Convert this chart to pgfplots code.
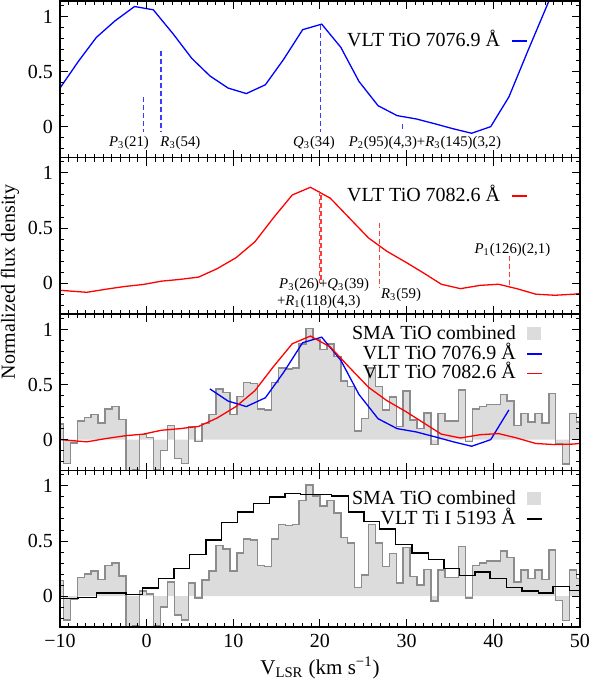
\documentclass[border=0pt]{standalone}
\usepackage{fontspec}
\setmainfont{Liberation Serif}
\usepackage{pgfplots}
\pgfplotsset{compat=1.18}
\definecolor{histfill}{HTML}{DCDCDC}
\definecolor{histline}{HTML}{8C8C8C}
\definecolor{vblue}{HTML}{0000FF}
\definecolor{vred}{HTML}{FF0000}
\definecolor{dblue}{HTML}{3C3CFF}
\definecolor{dred}{HTML}{FF3C3C}
\newcommand{\lab}{\fontsize{7.4}{8.6}\selectfont}

% SMA TiO combined, left bin edges (0.8 km/s channels)
\pgfplotstableread{
x y
-10.4 0.14
-9.6 -0.215
-8.8 -0.03
-8.0 0.17
-7.2 0.20
-6.4 0.23
-5.6 0.15
-4.8 0.28
-4.0 0.30
-3.2 0.185
-2.4 -0.40
-1.6 -0.27
-0.8 0.046
0.0 0.02
0.8 -0.27
1.6 -0.10
2.4 0.13
3.2 -0.17
4.0 -0.215
4.8 0.12
5.6 -0.015
6.4 0.145
7.2 0.23
8.0 0.46
8.8 0.43
9.6 0.23
10.4 0.39
11.2 0.52
12.0 0.51
12.8 0.28
13.6 0.27
14.4 0.52
15.2 0.65
16.0 0.64
16.8 0.65
17.6 0.87
18.4 1.01
19.2 0.91
20.0 0.82
20.8 0.87
21.6 0.755
22.4 0.53
23.2 0.48
24.0 0.08
24.8 0.19
25.6 0.65
26.4 0.48
27.2 0.27
28.0 0.385
28.8 0.12
29.6 0.44
30.4 0.18
31.2 0.10
32.0 0.24
32.8 -0.046
33.6 0.235
34.4 0.17
35.2 0.17
36.0 0.45
36.8 -0.015
37.6 0.28
38.4 0.30
39.2 0.32
40.0 0.32
40.8 0.41
41.6 0.35
42.4 0.13
43.2 0.235
44.0 0.16
44.8 0.235
45.6 0.15
46.4 0.42
47.2 -0.04
48.0 -0.22
48.8 0.235
49.6 0.16
50.4 0.16
}\sma

% VLT TiO 7076.9
\pgfplotstableread{
x y
-10.0 0.35
-7.9 0.59
-5.8 0.81
-3.65 0.96
-1.4 1.09
0.77 1.06
3.07 0.84
5.2 0.62
7.3 0.46
9.4 0.35
11.5 0.30
13.7 0.38
15.8 0.61
18.0 0.88
20.2 0.93
22.4 0.72
24.5 0.41
26.7 0.19
28.9 0.10
31.1 0.07
33.3 0.025
35.4 -0.02
37.5 -0.06
39.7 0.0
41.8 0.27
44.0 0.69
46.2 1.10
48.3 1.50
}\tioa

\pgfplotstableread{
x y
7.3 0.46
9.4 0.35
11.5 0.30
13.7 0.38
15.8 0.61
18.0 0.88
20.2 0.93
22.4 0.72
24.5 0.41
26.7 0.19
28.9 0.10
31.1 0.07
33.3 0.025
35.4 -0.02
37.5 -0.06
39.7 0.0
41.8 0.27
}\tioacut

% VLT TiO 7082.6
\pgfplotstableread{
x y
-10.0 -0.065
-6.9 -0.083
-4.7 -0.055
-2.5 -0.03
-0.4 -0.012
1.7 0.018
3.85 0.034
6.0 0.055
8.1 0.13
10.3 0.23
12.5 0.376
14.6 0.59
16.8 0.80
18.9 0.87
21.2 0.77
23.4 0.59
25.6 0.41
27.7 0.29
29.9 0.19
32.0 0.09
34.0 -0.01
36.2 -0.05
38.5 -0.02
40.6 -0.01
42.7 -0.05
44.9 -0.10
47.1 -0.11
49.3 -0.10
51.5 -0.08
}\tiob

\pgfplotstableread{
x y
-10.0 0.0
-6.9 -0.02
-4.7 0.01
-2.5 0.035
-0.4 0.05
1.7 0.085
3.85 0.10
6.0 0.12
8.1 0.195
10.3 0.30
12.5 0.445
14.6 0.66
16.8 0.87
18.9 0.94
21.2 0.84
23.4 0.655
25.6 0.475
27.7 0.355
29.9 0.255
32.0 0.15
34.0 0.05
36.2 0.015
38.5 0.045
40.6 0.055
42.7 0.015
44.9 -0.035
47.1 -0.045
49.3 -0.04
51.5 -0.02
}\tiobb

% VLT Ti I 5193, left edges
\pgfplotstableread{
x y
-10.0 -0.02
-7.9 -0.01
-5.8 0.03
-2.4 0.015
-0.45 0.075
1.35 0.16
3.15 0.25
4.95 0.38
6.85 0.51
8.65 0.67
10.5 0.765
12.35 0.84
14.15 0.90
15.96 0.93
17.77 0.92
19.55 0.925
21.35 0.91
23.3 0.765
25.1 0.68
26.9 0.61
28.7 0.47
30.6 0.39
32.5 0.33
34.3 0.25
36.1 0.19
37.9 0.22
39.6 0.16
41.5 0.076
43.3 0.046
45.2 0.03
46.9 0.09
48.8 0.05
50.0 0.05
}\tii

\pgfplotsset{panel/.style={scale only axis,width=260pt,height=78.25pt,
  xmin=-10,xmax=50,ymin=-0.28,ymax=1.14,
  xtick={-10,0,...,50},minor xtick={-10,-9,...,50},xticklabels={},
  ytick={0,0.5,1},yticklabels={0,0.5,1},
  minor ytick={-0.2,-0.1,0.1,0.2,0.3,0.4,0.6,0.7,0.8,0.9,1.1},
  tick align=inside,major tick length=4pt,minor tick length=2pt,
  axis line style={line width=0.8pt},every tick/.style={black,line width=0.5pt},
  tick label style={font=\fontsize{10}{12}\selectfont},
  axis on top,anchor=north west,
  legend cell align=right,legend plot pos=right,
  legend image code/.code={\draw[#1,line width=0.7pt] (0pt,0pt) -- (7.5pt,0pt);},
  legend style={draw=none,fill=none,font=\fontsize{10}{11}\selectfont,anchor=north east,
    column sep=5pt,row sep=0pt,inner sep=0pt,
    nodes={inner sep=0.5pt,text height=7pt,text depth=1.8pt}}},
  boxleg/.style={legend image code/.code={\fill[histfill] (0pt,-3pt) rectangle (7pt,3.5pt);}},
  bmark/.style={forget plot,color=dblue,line width=0.55pt,dash pattern=on 2.5pt off 1.5pt},
  rmark/.style={forget plot,color=dred,line width=0.55pt,dash pattern=on 2.5pt off 1.5pt}}

\begin{document}
\begin{tikzpicture}
\path[use as bounding box] (-30pt,0.5pt) rectangle (269pt,-339.5pt);

\begin{axis}[panel,at={(0pt,0pt)},legend style={at={(0.90,0.81)}}]
\addplot[color=vblue,line width=0.65pt] table {\tioa};
\addlegendentry{VLT TiO 7076.9 Å}
\addplot[bmark] coordinates {(-0.38,0.27) (-0.38,-0.05)};
\addplot[bmark] coordinates {(1.65,0.69) (1.65,-0.05)};
\addplot[bmark] coordinates {(20.1,0.92) (20.1,-0.05)};
\addplot[bmark] coordinates {(29.5,0.02) (29.5,-0.05)};
\node[font=\lab,inner sep=0pt] at (axis cs:-2.04,-0.15) {\textit{P}\textsubscript{3}(21)};
\node[font=\lab,inner sep=0pt,anchor=west] at (axis cs:1.55,-0.15) {\textit{R}\textsubscript{3}(54)};
\node[font=\lab,inner sep=0pt] at (axis cs:19.3,-0.15) {\textit{Q}\textsubscript{3}(34)};
\node[font=\lab,inner sep=0pt] at (axis cs:32.1,-0.15) {\textit{P}\textsubscript{2}(95)(4,3)+\textit{R}\textsubscript{3}(145)(3,2)};
\end{axis}

\begin{axis}[panel,at={(0pt,-78.25pt)},legend style={at={(0.90,0.82)}}]
\addplot[color=vred,line width=0.65pt] table {\tiob};
\addlegendentry{VLT TiO 7082.6 Å}
\addplot[rmark] coordinates {(19.9,0.84) (19.9,-0.0)};
\addplot[rmark] coordinates {(20.12,0.80) (20.12,-0.0)};
\addplot[rmark] coordinates {(26.85,0.55) (26.85,-0.04)};
\addplot[rmark] coordinates {(41.85,0.25) (41.85,-0.03)};
\node[font=\lab,inner sep=0pt,anchor=west] at (axis cs:15.25,-0.02) {\textit{P}\textsubscript{3}(26)+\textit{Q}\textsubscript{3}(39)};
\node[font=\lab,inner sep=0pt,anchor=west] at (axis cs:15.0,-0.17) {+\textit{R}\textsubscript{1}(118)(4,3)};
\node[font=\lab,inner sep=0pt,anchor=west] at (axis cs:27.0,-0.11) {\textit{R}\textsubscript{3}(59)};
\node[font=\lab,inner sep=0pt] at (axis cs:42.2,0.30) {\textit{P}\textsubscript{1}(126)(2,1)};
\end{axis}

\begin{axis}[panel,at={(0pt,-156.5pt)},legend style={at={(0.93,0.936)}}]
\addplot[const plot mark left,fill=histfill,draw=none,boxleg] table {\sma} \closedcycle;
\addlegendentry{SMA TiO combined}
\addplot[forget plot,const plot mark left,color=histline,line width=0.75pt] table {\sma};
\addplot[color=vblue,line width=0.65pt] table {\tioacut};
\addlegendentry{VLT TiO 7076.9 Å}
\addplot[color=vred,line width=0.65pt] table {\tiobb};
\addlegendentry{VLT TiO 7082.6 Å}
\end{axis}

\begin{axis}[panel,at={(0pt,-234.75pt)},legend style={at={(0.93,0.88)}},
  xticklabels={−10,0,10,20,30,40,50}]
\addplot[const plot mark left,fill=histfill,draw=none,boxleg] table {\sma} \closedcycle;
\addlegendentry{SMA TiO combined}
\addplot[forget plot,const plot mark left,color=histline,line width=0.75pt] table {\sma};
\addplot[const plot mark left,color=black,line width=0.7pt] table {\tii};
\addlegendentry{VLT Ti I 5193 Å}
\end{axis}

\node[rotate=90,font=\fontsize{10}{12}\selectfont] at (-25pt,-140.5pt) {Normalized flux density};
\node[font=\fontsize{10.5}{12}\selectfont] at (130pt,-333.5pt) {V\textsubscript{LSR} (km s\textsuperscript{−1})};
\end{tikzpicture}
\end{document}
